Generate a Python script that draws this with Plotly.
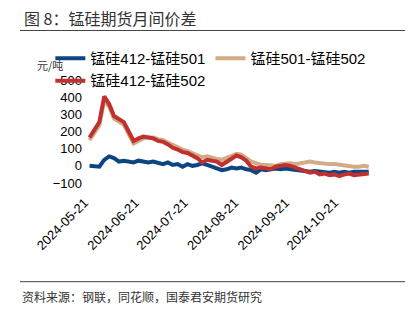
import pandas as pd
import plotly.graph_objects as go

dates = pd.date_range("2024-05-24", "2024-11-11", freq="3D")

s412_501 = [0, -5, -5, 35, 55, 45, 25, 30, 25, 20, 30, 25, 20, 25, 15, 10, 20, 5, 10, -5,
            10, 0, 5, 15, 5, -5, -15, -25, -20, -10, -15, -10, -20, -25, -40, -20, -25, -20, -15, -20,
            -15, -20, -25, -30, -30, -35, -30, -35, -35, -40, -35, -40, -35, -40, -35, -35, -30, -35]
s501_502 = [150, 195, 235, 380, 345, 275, 260, 240, 185, 130, 145, 160, 165, 165, 155, 150, 135, 120, 110, 95,
            85, 75, 65, 50, 55, 45, 40, 35, 45, 60, 70, 65, 45, 25, 15, 5, 5, 0, 0, 10,
            15, 15, 10, 15, 20, 25, 20, 15, 15, 10, 10, 5, 5, 0, -5, -5, 0, -5]
s412_502 = [165, 215, 255, 405, 360, 290, 275, 255, 200, 145, 160, 170, 165, 160, 145, 140, 125, 105, 95, 80,
            75, 60, 45, 20, 35, 30, 25, 5, 25, 45, 60, 50, 30, -5, -15, -10, -15, -20, -5, 0,
            5, 0, -10, -20, -30, -40, -35, -50, -45, -55, -50, -60, -50, -45, -55, -50, -45, -45]

names = ["锰硅412-锰硅501", "锰硅501-锰硅502", "锰硅412-锰硅502"]
colors = ["#0c4582", "#d3ab86", "#c0302e"]
tick_dates = ["2024-05-21", "2024-06-21", "2024-07-21", "2024-08-21", "2024-09-21", "2024-10-21"]
y_ticks = [-100, 0, 100, 200, 300, 400, 500]

FONT = "Liberation Sans, Arial, Noto Sans CJK SC, sans-serif"
CJK = "Noto Sans CJK SC, sans-serif"

fig = go.Figure()
for name, vals, col in zip(names, [s412_501, s501_502, s412_502], colors):
    fig.add_trace(go.Scatter(x=dates, y=vals, mode="lines", name=name,
                             line=dict(color=col, width=4)))

fig.update_layout(
    width=409, height=328,
    margin=dict(l=83, r=37, t=80, b=145),
    paper_bgcolor="white", plot_bgcolor="white",
    font=dict(family=FONT, color="#000", size=13),
    legend=dict(orientation="h", x=-0.113, y=1.37, xanchor="left", yanchor="top",
                bgcolor="rgba(0,0,0,0)", font=dict(family=FONT, size=15, color="#000"),
                itemwidth=30, tracegroupgap=0),
    showlegend=True,
)
fig.update_xaxes(range=["2024-05-20", "2024-11-13"], tickvals=tick_dates, ticktext=tick_dates,
                 tickangle=-45, showgrid=False, zeroline=False, showline=False,
                 tickfont=dict(size=13), ticks="outside", ticklen=6, tickcolor="rgba(0,0,0,0)")
fig.update_yaxes(range=[-100, 500], tickvals=y_ticks, showgrid=False, zeroline=False,
                 showline=False, tickfont=dict(size=13), ticks="")

fig.add_annotation(text="图 8：锰硅期货月间价差", xref="paper", yref="paper", x=-0.211, y=1.60,
                   xanchor="left", yanchor="middle", showarrow=False,
                   font=dict(family=CJK, size=16, color="#333"))
fig.add_annotation(text="元/吨", xref="paper", yref="paper", x=-0.166, y=1.146,
                   xanchor="left", yanchor="middle", showarrow=False,
                   font=dict(family=CJK, size=11, color="#333"))
fig.add_annotation(text="资料来源：钢联，同花顺，国泰君安期货研究", xref="paper", yref="paper",
                   x=-0.218, y=-1.104, xanchor="left", yanchor="middle", showarrow=False,
                   font=dict(family=CJK, size=12, color="#333"))
for yy in [1.4806, -0.958]:
    fig.add_shape(type="line", xref="paper", yref="paper", x0=-0.218, x1=1.114, y0=yy, y1=yy,
                  line=dict(color="#444", width=1))

fig.write_html("out.html")
